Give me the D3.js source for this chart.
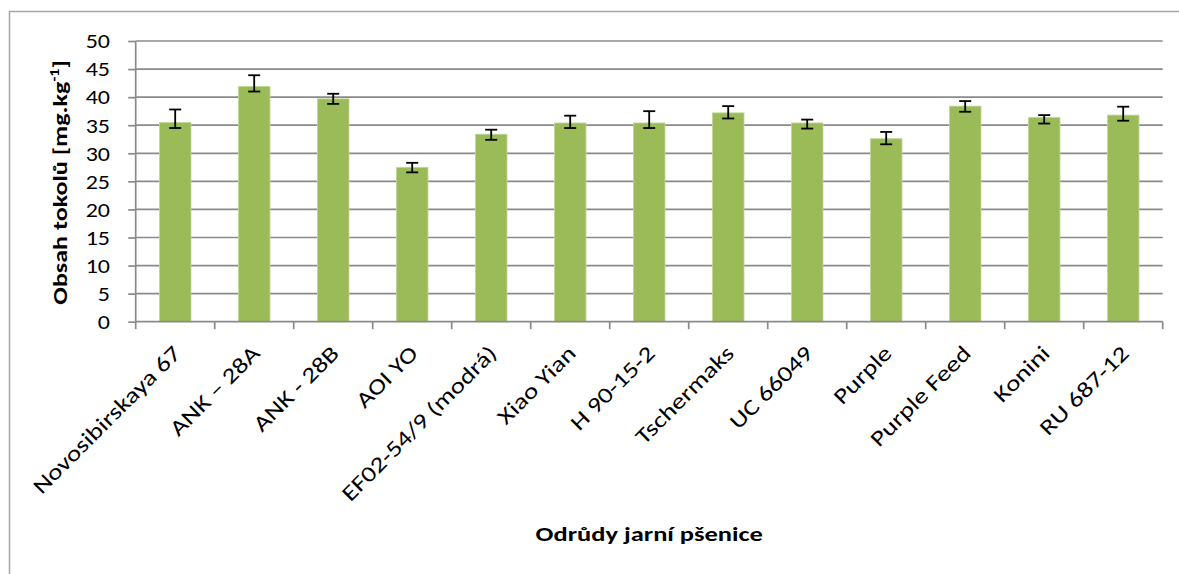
<!DOCTYPE html>
<html>
<head>
<meta charset="utf-8">
<script src="https://cdn.jsdelivr.net/npm/d3@7"></script>
<style>
  html, body { margin: 0; padding: 0; background: #fff; }
  svg { display: block; font-family: Carlito, Calibri, Lato, "Open Sans", sans-serif; }
</style>
</head>
<body>
<svg id="chart" width="1179" height="574"></svg>
<script>
const categories = ["Novosibirskaya 67", "ANK – 28A", "ANK - 28B", "AOI YO", "EF02-54/9 (modrá)", "Xiao Yian", "H 90-15-2", "Tschermaks", "UC 66049", "Purple", "Purple Feed", "Konini", "RU 687-12"];
const values    = [35.5, 41.9, 39.7, 27.5, 33.4, 35.4, 35.4, 37.2, 35.4, 32.6, 38.4, 36.4, 36.8];
const errPlus   = [2.3, 2.0, 0.9, 0.8, 0.8, 1.3, 2.1, 1.2, 0.6, 1.2, 0.9, 0.4, 1.5];
const errMinus  = [1.0, 0.9, 0.9, 0.9, 1.0, 0.9, 0.9, 1.0, 1.0, 1.0, 1.0, 1.1, 1.0];
const yTicks    = [0, 5, 10, 15, 20, 25, 30, 35, 40, 45, 50];
const yTitle    = "Obsah tokolů [mg.kg";
const yTitleSup = "-1";
const xTitle    = "Odrůdy jarní pšenice";

const svg = d3.select("#chart");
const grid = "#8a8a8a";

// outer chart frame
svg.append("rect")
  .attr("x", 9.5).attr("y", 11.5)
  .attr("width", 1200).attr("height", 600)
  .attr("fill", "#fff").attr("stroke", "#a6a6a6").attr("stroke-width", 1.5);

const pLeft = 135.7, pRight = 1162.7, pTop = 41, pBottom = 321.7;

const x = d3.scaleBand().domain(categories).range([pLeft, pRight]).paddingInner(0.6).paddingOuter(0.3);
const xb = d3.scaleBand().domain(categories).range([pLeft, pRight]);
const y = d3.scaleLinear().domain([0, 50]).range([pBottom, pTop]);

// gridlines
svg.append("g").selectAll("line").data(yTicks.filter(d => d > 0)).join("line")
  .attr("x1", pLeft).attr("x2", pRight)
  .attr("y1", d => y(d)).attr("y2", d => y(d))
  .attr("stroke", grid).attr("stroke-width", 1.7);

// y axis
const yAxis = svg.append("g").attr("transform", `translate(${pLeft},0)`)
  .call(d3.axisLeft(y).tickValues(yTicks).tickSize(7.5).tickPadding(0));
yAxis.select(".domain").attr("stroke", grid).attr("stroke-width", 1.7).attr("d", `M0,${pTop}V${pBottom}`);
yAxis.selectAll(".tick line").attr("stroke", grid).attr("stroke-width", 1.7);
yAxis.selectAll(".tick text")
  .attr("x", null).attr("dy", null)
  .attr("text-anchor", "end")
  .attr("dominant-baseline", "central")
  .attr("transform", "translate(-25.7,0) scale(1.2,1)")
  .attr("font-size", 20).attr("fill", "#000")
  .style("font-family", "Carlito, Calibri, Lato, sans-serif");

// bars
svg.append("g").selectAll("rect").data(categories).join("rect")
  .attr("x", d => x(d))
  .attr("width", x.bandwidth())
  .attr("y", (d, i) => y(values[i]))
  .attr("height", (d, i) => y(0) - y(values[i]))
  .attr("fill", "#9bbb59")
  .attr("stroke", "#c3d69b").attr("stroke-width", 0.8);

// x axis
const xAxisG = svg.append("g").attr("transform", `translate(0,${pBottom})`);
xAxisG.append("line").attr("x1", pLeft).attr("x2", pRight).attr("y1", 0).attr("y2", 0)
  .attr("stroke", grid).attr("stroke-width", 1.7);
const boundaries = categories.map(c => xb(c)).concat([pRight]);
xAxisG.selectAll("line.tk").data(boundaries).join("line").attr("class", "tk")
  .attr("x1", d => d).attr("x2", d => d).attr("y1", 0).attr("y2", 7.5)
  .attr("stroke", grid).attr("stroke-width", 1.7);

// error bars
const eb = svg.append("g").attr("stroke", "#000").attr("stroke-width", 1.8);
categories.forEach((c, i) => {
  const cx = x(c) + x.bandwidth() / 2;
  const yt = y(values[i] + errPlus[i]), yb = y(values[i] - errMinus[i]);
  eb.append("line").attr("x1", cx).attr("x2", cx).attr("y1", yt).attr("y2", yb);
  eb.append("line").attr("x1", cx - 6).attr("x2", cx + 6).attr("y1", yt).attr("y2", yt);
  eb.append("line").attr("x1", cx - 6).attr("x2", cx + 6).attr("y1", yb).attr("y2", yb);
});

// x tick labels
svg.append("g").selectAll("text").data(categories).join("text")
  .attr("transform", d => `translate(${x(d) + x.bandwidth() / 2 + 7},${pBottom + 33}) rotate(-45) scale(1.24,1)`)
  .attr("text-anchor", "end")
  .attr("font-size", 22)
  .attr("fill", "#000")
  .text(d => d);

// y title
const ytl = svg.append("text")
  .attr("transform", `translate(67,${(pTop + pBottom) / 2 + 1}) rotate(-90) scale(1.24,1)`)
  .attr("text-anchor", "middle")
  .attr("font-size", 21).attr("font-weight", "bold").attr("fill", "#000");
ytl.append("tspan").text(yTitle);
ytl.append("tspan").attr("dy", -8).attr("font-size", 13).text(yTitleSup);
ytl.append("tspan").attr("dy", 8).text("]");

// x title
svg.append("text")
  .attr("transform", `translate(${(pLeft + pRight) / 2},541) scale(1.26,1)`)
  .attr("text-anchor", "middle")
  .attr("font-size", 21).attr("font-weight", "bold").attr("fill", "#000")
  .text(xTitle);
</script>
</body>
</html>
